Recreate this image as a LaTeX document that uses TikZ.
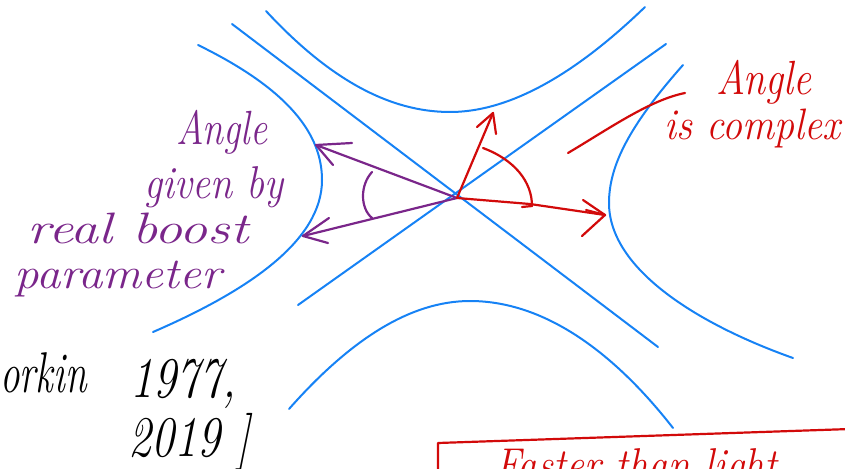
\documentclass[tikz,border=0pt]{standalone}
\usetikzlibrary{arrows.meta}
\definecolor{hb}{RGB}{22,130,245}
\definecolor{pu}{RGB}{122,38,138}
\definecolor{rd}{RGB}{210,10,10}
\begin{document}
\begin{tikzpicture}[x=1pt,y=-1pt,
  hyp/.style={hb,line width=2pt,line cap=round,line join=round},
  pvec/.style={pu,line width=2.2pt,line cap=round,line join=round},
  rvec/.style={rd,line width=2.2pt,line cap=round,line join=round},
  ptext/.style={pu,inner sep=0pt,font=\itshape\fontsize{40}{40}\selectfont},
  rtext/.style={rd,inner sep=0pt,font=\itshape\fontsize{40}{40}\selectfont},
  ktext/.style={black,inner sep=0pt,font=\itshape\fontsize{46}{46}\selectfont}]
\useasboundingbox (0,0) rectangle (845,468);
\clip (0,0) rectangle (845,468);
% hyperbolas
\draw[hyp] (266,11) .. controls (330,80) and (390,112) .. (450,112)
                    .. controls (520,112) and (590,60) .. (645,7);
\draw[hyp] (198,45) .. controls (290,90) and (322,135) .. (322,180)
                    .. controls (322,240) and (250,290) .. (153,332);
\draw[hyp] (683,65) .. controls (630,125) and (609,165) .. (609,203)
                    .. controls (609,270) and (700,325) .. (793,358);
\draw[hyp] (289,409) .. controls (350,340) and (410,301) .. (470,301)
                     .. controls (550,301) and (620,360) .. (673,428);
% asymptotes
\draw[hyp] (232,24) -- (658,347);
\draw[hyp] (298,305) -- (666,44);
% origin and vector tips
\coordinate (O) at (457,198);
\coordinate (P1) at (316,145);
\coordinate (P2) at (303,236);
\coordinate (R1) at (493,113);
\coordinate (R2) at (605,215);
% purple vectors
\draw[pvec] (O) -- (P1);
\draw[pvec] (352,143) -- (P1) -- (333,165);
\draw[pvec] (O) -- (P2);
\draw[pvec] (328,243) -- (P2) -- (329,218);
\draw[pvec] (372,172) .. controls (360,185) and (360,208) .. (372,218);
% red vectors
\draw[rvec] (O) -- (R1);
\draw[rvec] (477,127) -- (R1) -- (496,134);
\draw[rvec] (O) -- (530,204) -- (R2);
\draw[rvec] (583,200) -- (R2) -- (582,236);
\draw[rvec] (586,210) -- (R2);
\draw[rvec] (483,148) .. controls (515,160) and (532,182) .. (532,206);
\draw[rvec] (522,207) -- (532,206);
\draw[rvec] (568,153) .. controls (610,128) and (650,100) .. (685,93);
% red box
\draw[rvec] (438,475) -- (438,443) -- (850,429);
% texts
\node[ptext,xscale=0.95,yscale=1.2] (t1) at (222,132) {Angle};
\node[ptext,yscale=1.15] (t2) at (214,187) {given by};
\node[ptext,xscale=1.4,yscale=1.1] (t3) at (138,228) {real boost};
\node[ptext,xscale=1.22,yscale=1.1] (t4) at (118,279) {parameter};
\node[rtext,yscale=1.2] (t5) at (764,82) {Angle};
\node[rtext,yscale=1.1] (t6) at (752,128) {is complex};
\node[ktext,anchor=base west,xscale=0.85,yscale=1.25] (t7) at (0,392) {orkin};
\node[ktext,anchor=base west,yscale=1.25] (t8) at (130,397) {1977,};
\node[ktext,anchor=base west,yscale=1.25] (t9) at (128,456) {2019 ]};
\node[rd,inner sep=0pt,font=\itshape\fontsize{46}{46}\selectfont,anchor=base west,xscale=0.87] (t10) at (495,480) {Faster than light};
\end{tikzpicture}
\end{document}
